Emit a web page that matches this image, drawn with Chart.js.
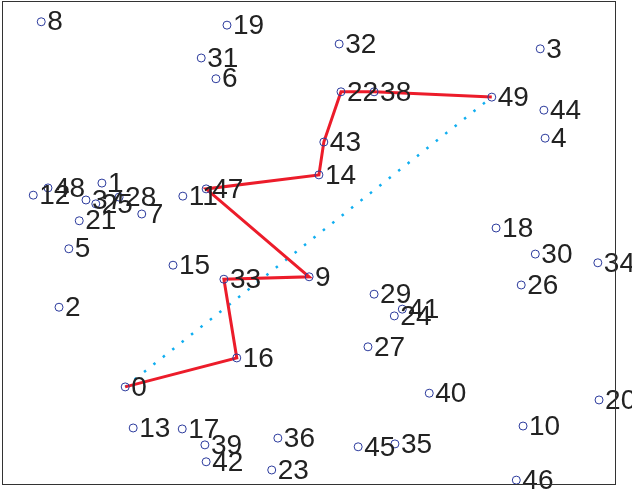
<!DOCTYPE html>
<html>
<head>
<meta charset="utf-8">
<script src="https://cdn.jsdelivr.net/npm/chart.js@4.4.1/dist/chart.umd.min.js"></script>
<style>
  html, body { margin: 0; padding: 0; background: #fff; }
  #wrap { width: 632px; height: 491px; }
</style>
</head>
<body>
<div id="wrap"><canvas id="tourChart"></canvas></div>
<script>
// point coordinates (index = label)
const xs = [20.1, 16.3, 9.3, 87.8, 88.6, 10.9, 34.9, 22.8, 6.4, 50.1,
            85.0, 29.5, 5.1, 21.4, 51.7, 27.9, 38.3, 29.4, 80.6, 36.7,
            97.4, 12.6, 55.3, 44.0, 64.0, 15.3, 84.7, 59.7, 19.1, 60.7,
            87.0, 32.5, 55.0, 36.2, 97.2, 64.1, 45.0, 13.7, 60.7, 33.1,
            69.7, 65.3, 33.3, 52.5, 88.4, 58.1, 83.9, 33.3, 7.5, 79.9];
const ys = [20.1, 62.3, 36.6, 90.1, 71.6, 48.7, 83.9, 55.9, 95.7, 42.9,
            12.0, 59.6, 59.8, 11.6, 64.0, 45.3, 26.1, 11.4, 53.0, 95.0,
            17.4, 54.5, 81.2, 2.9, 34.8, 58.0, 41.2, 28.4, 59.4, 39.3,
            47.6, 88.2, 91.1, 42.4, 45.8, 8.3, 9.5, 58.8, 81.2, 8.1,
            18.8, 36.2, 4.6, 70.8, 77.4, 7.7, 0.8, 61.1, 61.3, 80.1];
const labels = xs.map((_, i) => String(i));

// red route through the points, and the straight dotted link
const route = [0, 16, 33, 9, 47, 14, 43, 22, 38, 49];
const direct = [0, 49];

const toPts = idx => idx.map(i => ({ x: xs[i], y: ys[i] }));

const labelPlugin = {
  id: 'pointLabels',
  afterDatasetsDraw(chart) {
    const ctx = chart.ctx;
    const meta = chart.getDatasetMeta(0);
    ctx.save();
    ctx.font = '28px "Liberation Sans", Arial, sans-serif';
    ctx.fillStyle = '#222';
    ctx.textAlign = 'left';
    ctx.textBaseline = 'middle';
    meta.data.forEach((el, i) => {
      ctx.fillText(labels[i], el.x + 6, el.y + 1);
    });
    ctx.restore();
  }
};

const boxPlugin = {
  id: 'box',
  afterDraw(chart) {
    const a = chart.chartArea;
    const ctx = chart.ctx;
    ctx.save();
    ctx.strokeStyle = '#333';
    ctx.lineWidth = 1;
    ctx.strokeRect(a.left + 0.5, a.top + 0.5, a.right - a.left, a.bottom - a.top);
    ctx.restore();
  }
};

new Chart(document.getElementById('tourChart'), {
  type: 'scatter',
  plugins: [labelPlugin, boxPlugin],
  data: {
    datasets: [
      {
        data: toPts(labels.map((_, i) => i)),
        pointStyle: 'circle',
        pointRadius: 4,
        borderWidth: 1,
        borderColor: '#2b3a9c',
        backgroundColor: 'transparent',
        clip: false
      },
      {
        data: toPts(route),
        showLine: true,
        borderColor: '#ec1c2a',
        borderWidth: 3,
        pointRadius: 0,
        clip: false
      },
      {
        data: toPts(direct),
        showLine: true,
        borderColor: '#10aef0',
        borderWidth: 2.5,
        borderDash: [2.5, 9.5],
        pointRadius: 0,
        clip: false
      }
    ]
  },
  options: {
    responsive: true,
    maintainAspectRatio: false,
    animation: false,
    layout: { autoPadding: false, padding: { left: 2, top: 1, right: 17, bottom: 7 } },
    plugins: {
      legend: { display: false },
      tooltip: { enabled: false }
    },
    scales: {
      x: { type: 'linear', display: false, min: 0, max: 100 },
      y: { type: 'linear', display: false, min: 0, max: 100 }
    }
  }
});
</script>
</body>
</html>
